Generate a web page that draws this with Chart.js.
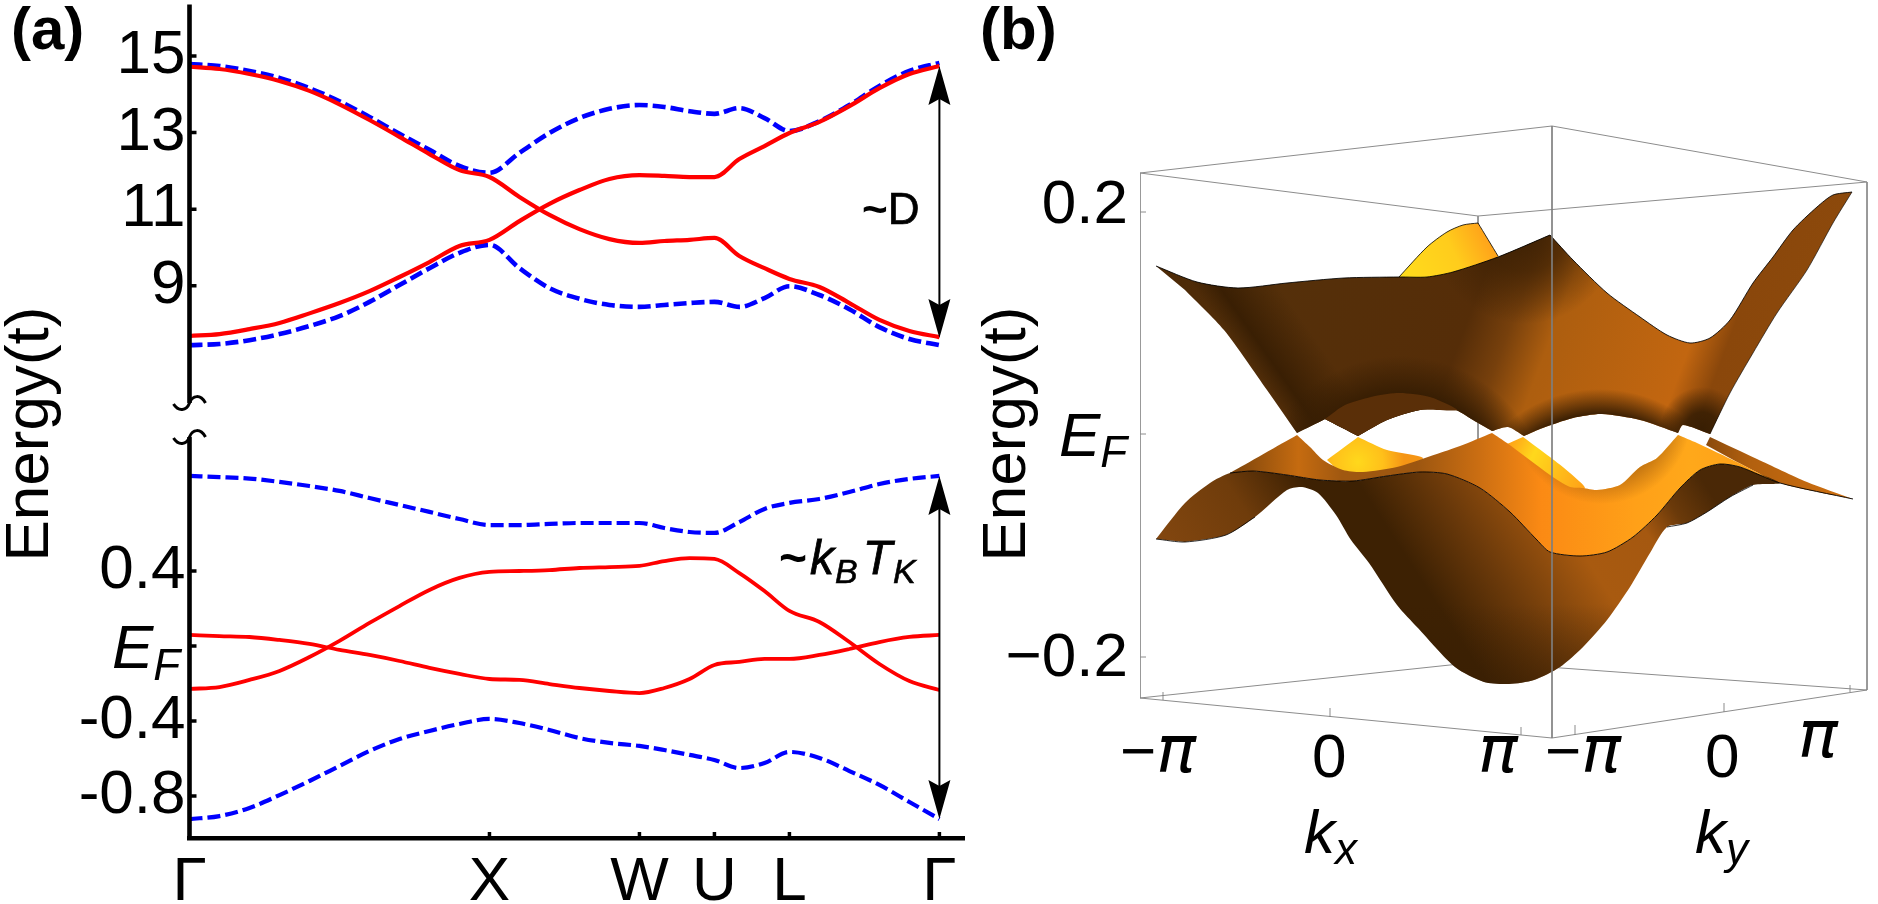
<!DOCTYPE html>
<html>
<head>
<meta charset="utf-8">
<title>Band structure</title>
<script src="https://cdn.jsdelivr.net/npm/chart.js@4/dist/chart.umd.min.js"></script>
<style>
  html, body { margin: 0; padding: 0; background: #fff; overflow: hidden; }
  canvas { position: absolute; top: 0; }
  #bandChart { left: 0; }
  #surfaceChart { left: 975px; }
</style>
</head>
<body>
<canvas id="bandChart" width="975" height="904"></canvas>
<canvas id="surfaceChart" width="903" height="904"></canvas>
<script>
// ── panel (a): path through the zone, one k grid for all the bands ──
const kPath = [0, .1, .2, .3, .4, .5, .6, .7, .8, .9, 1, 1.1, 1.2, 1.3, 1.4, 1.5,
               1.583, 1.667, 1.75, 1.833, 1.917, 2, 2.1, 2.2, 2.3, 2.4, 2.5];
const kTickValues = [0, 1, 1.5, 1.75, 2, 2.5];
const kTickLabels = ['Γ', 'X', 'W', 'U', 'L', 'Γ'];

const upperTicks = [15, 13, 11, 9];
const lowerTicks = [0.4, 0, -0.4, -0.8];
const lowerTickLabels = ['0.4', '', '-0.4', '-0.8'];

const redUpperA = [14.72, 14.66, 14.53, 14.35, 14.09, 13.74, 13.33, 12.89, 12.44, 12.02, 11.84, 11.32, 10.85, 10.48,
                   10.22, 10.12, 10.17, 10.20, 10.25, 9.78, 9.46, 9.18, 8.97, 8.55, 8.11, 7.82, 7.66];
const redUpperB = [7.69, 7.74, 7.87, 8.03, 8.28, 8.55, 8.86, 9.23, 9.62, 10.04, 10.20, 10.69, 11.14, 11.50,
                   11.79, 11.89, 11.87, 11.84, 11.84, 12.31, 12.65, 12.99, 13.28, 13.69, 14.16, 14.53, 14.74];
const blueUpperA = [14.79, 14.74, 14.61, 14.43, 14.16, 13.82, 13.41, 12.97, 12.55, 12.13, 11.95, 12.47, 12.99, 13.38,
                    13.62, 13.72, 13.67, 13.56, 13.49, 13.64, 13.38, 13.04, 13.30, 13.72, 14.22, 14.61, 14.82];
const blueUpperB = [7.45, 7.48, 7.58, 7.74, 7.95, 8.21, 8.58, 9.02, 9.46, 9.86, 10.07, 9.46, 8.94, 8.66,
                    8.50, 8.45, 8.50, 8.55, 8.58, 8.45, 8.68, 8.99, 8.76, 8.39, 7.92, 7.61, 7.45];

const blueLowerA = [.907, .901, .893, .875, .853, .827, .789, .752, .715, .677, .645, .645, .651, .656,
                    .656, .656, .629, .608, .603, .661, .731, .763, .784, .821, .864, .891, .907];
const redLowerA = [-.229, -.219, -.181, -.133, -.059, .027, .123, .213, .299, .363, .395, .400, .405, .416,
                   .421, .427, .453, .469, .464, .389, .293, .187, .128, .021, -.096, -.187, -.235];
const redLowerB = [.059, .053, .048, .032, .011, -.021, -.048, -.080, -.117, -.149, -.176, -.181, -.203, -.224,
                   -.240, -.251, -.224, -.176, -.101, -.085, -.069, -.069, -.048, -.016, .021, .048, .059];
const blueLowerB = [-.923, -.907, -.864, -.795, -.720, -.640, -.560, -.496, -.453, -.416, -.389, -.411, -.448, -.491,
                    -.517, -.533, -.555, -.581, -.608, -.651, -.624, -.565, -.597, -.667, -.741, -.832, -.923];

// ── panel (b): view-plane outlines of the two sheets, [across, height] ──
// a point listed twice keeps its corner sharp under the curve tension
const zTickValues = [228, -225];
const zTickLabels = ['0.2', '−0.2'];

const upperTopEdge = [[16,168],[57,152],[98,146],[147,151],[204,156],[259,157],[287,157],[313,162],[358,177],[410,199],[410,199],
                      [433,174],[467,141],[500,117],[527,99],[550,91],[570,96],[590,114],[613,151],[633,177],[653,204],[677,227],[693,239],[712,242]];
const upperRightEdge = [[712,242],[712,242],[693,211],[667,164],[637,121],[613,81],[590,41],[570,0]];
const upperBottomEdge = [[570,0],[570,0],[543,9],[538,1],[538,1],[500,14],[462,20],[433,16],[400,5],[384,-2],[384,-2],[368,7],[352,3],[352,3],[333,14],[313,25],
                         [280,24],[247,14],[218,-2],[218,-2],[185,15],[185,15],[157,1],[157,1],[127,44],[84,104],[45,144]];
const upperFold = [[185,15],[205,29],[235,38],[260,41],[290,37],[317,24],[280,24],[247,14],[218,-2],[218,-2]];
const finOutline = [[259,157],[287,187],[307,202],[323,209],[338,211],[338,211],[358,178],[358,178],[358,165],[259,150]];
const finEdge = [[259,157],[287,187],[307,202],[323,209],[338,211],[338,211],[358,178]];

const lowerRidge = [[90,-39],[157,-1],[157,-1],[170,-13],[183,-26],[203,-36],[223,-38],[257,-33],[285,-24],[320,-12],[352,1],[352,1],[367,-9],
                    [410,-41],[430,-53],[443,-54],[457,-56],[480,-51],[500,-33],[517,-24],[538,-1],[538,-1],[557,-9],[597,-28],[640,-49],[713,-65],[713,-65]];
const frontEdge = [[90,-39],[113,-37],[147,-41],[180,-46],[213,-47],[247,-42],[280,-38],[307,-40],[340,-54],[370,-78],[397,-106],[410,-118],
                   [440,-122],[467,-118],[493,-103],[517,-81],[540,-54],[560,-36],[580,-30],[600,-33],[640,-49],[713,-65]];
const wingLeftTop = [[16,-105],[16,-105],[45,-69],[70,-49]];
const undersideBack = [[613,-51],[590,-63],[567,-78],[547,-89],[527,-93],[510,-119],[490,-153],[467,-186],[443,-213],[420,-233],
                       [394,-246],[369,-250],[344,-248],[315,-233],[278,-194],[257,-171],[229,-129],[211,-106],[196,-81],[178,-59],
                       [162,-53],[147,-56],[115,-83],[86,-101],[45,-108]];
const backWing = [[566,-11],[570,-3],[570,-3],[617,-25],[667,-48],[713,-65],[713,-65],[640,-49],[597,-28]];
const yellowLeft = [[187,-26],[218,-3],[218,-3],[247,-16],[283,-24],[257,-36],[223,-42],[200,-38]];
const yellowRight = [[367,-10],[383,-3],[383,-3],[410,-23],[430,-39],[445,-54],[430,-56],[410,-46]];

const boxBehind = [[0,261],[412,308],null,[0,261],[338,218],null,[338,218],[727,252],null,[412,308],[727,252],null,
                   [727,252],[727,-256],null,[0,261],[0,-264],null,[0,-264],[338,-228],[727,-256],null,[338,218],[338,-228],null,
                   [0,222],[6,222],null,[0,0],[6,0],null,[0,-223],[6,-223]];
const boxFront = [[412,308],[412,-304],null,[0,-264],[412,-304],[727,-256],null,
                  [23,-266],[23,-258],null,[190,-283],[190,-274],null,[381,-301],[381,-293],null,
                  [435,-301],[435,-291],null,[584,-278],[584,-269],null,[710,-258],[710,-251]];

const SANS = '"Liberation Sans"';

// ─────────────────────────────────────────────
// HELPERS
// ─────────────────────────────────────────────
function drawRuns(ctx, x, y, runs) {
    ctx.save();
    ctx.fillStyle = '#000';
    ctx.strokeStyle = '#000';
    ctx.textAlign = 'left';
    ctx.textBaseline = 'alphabetic';
    runs.forEach(function (r) {
        ctx.font = r.font;
        ctx.fillText(r.text, x, y + (r.dy || 0));
        if (r.heavy) {
            ctx.lineWidth = r.heavy;
            ctx.strokeText(r.text, x, y + (r.dy || 0));
        }
        x += ctx.measureText(r.text).width + (r.gap || 0);
    });
    ctx.restore();
}

function drawRotated(ctx, text, x, y) {
    ctx.save();
    ctx.translate(x, y);
    ctx.rotate(-Math.PI / 2);
    ctx.fillStyle = '#000';
    ctx.font = '62px ' + SANS;
    ctx.textAlign = 'center';
    ctx.textBaseline = 'alphabetic';
    ctx.fillText(text, 0, 0);
    ctx.restore();
}

function bandSet(values, yAxisID, color, dashed, width) {
    return {
        data: values.map(function (v, i) { return { x: kPath[i], y: v }; }),
        yAxisID: yAxisID,
        showLine: true,
        borderColor: color,
        borderWidth: width,
        borderDash: dashed ? [13, 5] : [],
        cubicInterpolationMode: 'monotone',
        pointRadius: 0,
        fill: false
    };
}

function arrowHead(ctx, x, tip, dir) {
    ctx.beginPath();
    ctx.moveTo(x, tip);
    ctx.lineTo(x + 11, tip + dir * 39);
    ctx.lineTo(x, tip + dir * 33);
    ctx.lineTo(x - 11, tip + dir * 39);
    ctx.closePath();
    ctx.fill();
}

function drawArrow(ctx, x, y0, y1) {
    ctx.strokeStyle = '#000';
    ctx.fillStyle = '#000';
    ctx.lineWidth = 2;
    ctx.beginPath();
    ctx.moveTo(x, y0 + 20);
    ctx.lineTo(x, y1 - 20);
    ctx.stroke();
    arrowHead(ctx, x, y0, 1);
    arrowHead(ctx, x, y1, -1);
}

function drawSquiggle(ctx, x, y) {
    ctx.beginPath();
    ctx.moveTo(x - 16, y + 1);
    ctx.bezierCurveTo(x - 11, y + 9, x - 3, y + 8, x, y);
    ctx.bezierCurveTo(x + 3, y - 8, x + 11, y - 9, x + 16, y);
    ctx.stroke();
}

// tick labels sit outside the zero-width scale boxes, so open the label clip
const widenLabelBoxes = {
    id: 'widenLabelBoxes',
    afterLayout: function (chart) {
        Object.keys(chart.scales).forEach(function (id) {
            const s = chart.scales[id];
            if (s.isHorizontal()) {
                s.bottom = chart.height;
            } else {
                s.left = 0;
            }
        });
    }
};

function flatAxis(s) {
    s.width = 0;
    s.paddingTop = 0;
    s.paddingBottom = 0;
    s.paddingLeft = 0;
    s.paddingRight = 0;
}

// ─────────────────────────────────────────────
// PANEL (a)
// ─────────────────────────────────────────────
const bandDecor = {
    id: 'bandDecor',
    afterDatasetsDraw: function (chart) {
        const ctx = chart.ctx;
        const xs = chart.scales.x, yU = chart.scales.yU, yL = chart.scales.yL;
        const area = chart.chartArea;
        const axisX = area.left;
        const breakTop = 403, breakBottom = 437;

        ctx.save();
        ctx.strokeStyle = '#000';
        ctx.lineWidth = 4.6;
        ctx.beginPath();
        ctx.moveTo(axisX, area.top);
        ctx.lineTo(axisX, breakTop);
        ctx.moveTo(axisX, breakBottom);
        ctx.lineTo(axisX, area.bottom + 2);
        ctx.stroke();

        ctx.lineWidth = 3;
        drawSquiggle(ctx, axisX, breakTop);
        drawSquiggle(ctx, axisX, breakBottom);

        // short ticks pointing into the plot
        ctx.lineWidth = 3.5;
        ctx.beginPath();
        upperTicks.forEach(function (v) {
            const p = yU.getPixelForValue(v);
            ctx.moveTo(axisX, p);
            ctx.lineTo(axisX + 7, p);
        });
        lowerTicks.forEach(function (v) {
            const p = yL.getPixelForValue(v);
            ctx.moveTo(axisX, p);
            ctx.lineTo(axisX + 7, p);
        });
        kTickValues.slice(1).forEach(function (v) {
            const p = xs.getPixelForValue(v);
            ctx.moveTo(p, area.bottom);
            ctx.lineTo(p, area.bottom - 6);
        });
        ctx.stroke();

        const end = xs.getPixelForValue(2.5);
        drawArrow(ctx, end, yU.getPixelForValue(14.74), yU.getPixelForValue(7.64));
        drawArrow(ctx, end, yL.getPixelForValue(0.907), yL.getPixelForValue(-0.923));
        ctx.restore();

        drawRuns(ctx, 11, 49, [{ text: '(a)', font: 'bold 60px ' + SANS }]);
        drawRotated(ctx, 'Energy(t)', 48, 434);
        drawRuns(ctx, 112, 668, [
            { text: 'E', font: 'italic 62px ' + SANS },
            { text: 'F', font: 'italic 44px ' + SANS, dy: 12 }
        ]);
        drawRuns(ctx, 862, 224, [
            { text: '~', font: 'bold 44px ' + SANS },
            { text: 'D', font: '44px ' + SANS, heavy: .7 }
        ]);
        drawRuns(ctx, 779, 574, [
            { text: '~', font: 'bold 48px ' + SANS, gap: 3 },
            { text: 'k', font: 'italic 48px ' + SANS, heavy: .8, gap: 1 },
            { text: 'B', font: 'italic 34px ' + SANS, heavy: .6, dy: 9, gap: 5 },
            { text: 'T', font: 'italic 48px ' + SANS, heavy: .8, gap: 1 },
            { text: 'K', font: 'italic 34px ' + SANS, heavy: .6, dy: 9 }
        ]);
    }
};

new Chart(document.getElementById('bandChart').getContext('2d'), {
    type: 'scatter',
    data: {
        datasets: [
            bandSet(redUpperA, 'yU', '#ff0000', false, 4.2),
            bandSet(redUpperB, 'yU', '#ff0000', false, 4.2),
            bandSet(redLowerA, 'yL', '#ff0000', false, 3.8),
            bandSet(redLowerB, 'yL', '#ff0000', false, 3.8),
            bandSet(blueUpperA, 'yU', '#0000ff', true, 4.6),
            bandSet(blueUpperB, 'yU', '#0000ff', true, 4.6),
            bandSet(blueLowerA, 'yL', '#0000ff', true, 4.2),
            bandSet(blueLowerB, 'yL', '#0000ff', true, 4.2)
        ]
    },
    plugins: [widenLabelBoxes, bandDecor],
    options: {
        responsive: false,
        animation: false,
        events: [],
        layout: { autoPadding: false, padding: { left: 189.5, right: 11, top: 4.5, bottom: 66 } },
        plugins: { legend: { display: false }, tooltip: { enabled: false } },
        scales: {
            x: {
                type: 'linear',
                min: 0,
                max: 2.582,
                grid: { display: false, drawTicks: false },
                border: { display: true, color: '#000', width: 4.6 },
                afterFit: function (s) {
                    s.height = 0;
                    s.paddingLeft = 0;
                    s.paddingRight = 0;
                },
                afterBuildTicks: function (s) { s.ticks = kTickValues.map(function (v) { return { value: v }; }); },
                ticks: {
                    autoSkip: false,
                    maxRotation: 0,
                    padding: 8,
                    color: '#000',
                    font: { family: 'Liberation Sans', size: 62 },
                    callback: function (v, i) { return kTickLabels[i]; }
                }
            },
            yU: {
                type: 'linear',
                position: 'left',
                min: -5.418,
                max: 16.345,
                grid: { display: false, drawTicks: false },
                border: { display: false },
                afterFit: flatAxis,
                afterBuildTicks: function (s) { s.ticks = upperTicks.map(function (v) { return { value: v }; }); },
                ticks: {
                    autoSkip: false,
                    padding: 4,
                    color: '#000',
                    font: { family: 'Liberation Sans', size: 62 },
                    callback: function (v) { return String(v); }
                }
            },
            yL: {
                type: 'linear',
                position: 'left',
                min: -1.024,
                max: 3.421,
                grid: { display: false, drawTicks: false },
                border: { display: false },
                afterFit: flatAxis,
                afterBuildTicks: function (s) { s.ticks = lowerTicks.map(function (v) { return { value: v }; }); },
                ticks: {
                    autoSkip: false,
                    padding: 4,
                    color: '#000',
                    font: { family: 'Liberation Sans', size: 62 },
                    callback: function (v, i) { return lowerTickLabels[i]; }
                }
            }
        }
    }
});

// ─────────────────────────────────────────────
// PANEL (b)
// ─────────────────────────────────────────────
const SHEET_TENSION = 0.25;

function toPoints(list) {
    return list.map(function (p) {
        return p ? { x: p[0], y: p[1] } : { x: NaN, y: NaN };
    });
}

function addStops(g, stops) {
    stops.forEach(function (s) { g.addColorStop(s[0], s[1]); });
    return g;
}

function linearFill(x0, y0, x1, y1, stops) {
    return function (c) {
        if (!c.chart.chartArea) return 'transparent';
        const xs = c.chart.scales.x, ys = c.chart.scales.y;
        return addStops(c.chart.ctx.createLinearGradient(
            xs.getPixelForValue(x0), ys.getPixelForValue(y0),
            xs.getPixelForValue(x1), ys.getPixelForValue(y1)), stops);
    };
}

function radialFill(cx, cy, r, stops) {
    return function (c) {
        if (!c.chart.chartArea) return 'transparent';
        const x = c.chart.scales.x.getPixelForValue(cx), y = c.chart.scales.y.getPixelForValue(cy);
        return addStops(c.chart.ctx.createRadialGradient(x, y, 0, x, y, r), stops);
    };
}

function sheet(outline, fill) {
    return {
        data: toPoints(outline),
        showLine: true,
        fill: 'shape',
        backgroundColor: fill,
        borderColor: 'transparent',
        borderWidth: 0,
        pointRadius: 0,
        tension: SHEET_TENSION
    };
}

function edge(points, color, width, tension) {
    return {
        data: toPoints(points),
        showLine: true,
        fill: false,
        borderColor: color,
        borderWidth: width,
        pointRadius: 0,
        tension: tension === undefined ? SHEET_TENSION : tension
    };
}

const upperOutline = upperTopEdge.concat(upperRightEdge.slice(1), upperBottomEdge.slice(1));
const topFace = lowerRidge.concat(frontEdge.slice().reverse().slice(1));
const underside = wingLeftTop.concat(frontEdge.slice(0, -1), undersideBack);

const DARK = 'rgba(56,30,3,';
const RIM = 'rgba(150,84,12,';

// listed back to front
const layers = [
    edge(boxBehind, '#8c8c8c', 1, 0),
    sheet(finOutline, linearFill(270, 150, 350, 190, [[0, '#ffdb1c'], [.6, '#ffcc1c'], [1, '#ffa41a']])),
    edge(finEdge, 'rgba(0,0,0,.8)', 1),

    sheet(upperOutline, linearFill(16, 120, 671, -126, [
        [0, '#4f2b07'], [.12, '#55300a'], [.42, '#552d08'], [.48, '#77400c'], [.54, '#ad5e0f'],
        [.73, '#c26610'], [.78, '#8a470b'], [1, '#8f4c0c']])),
    sheet(upperOutline, radialFill(385, 205, 95, [[0, DARK + '.9)'], [.45, DARK + '.65)'], [1, DARK + '0)']])),
    sheet(upperOutline, linearFill(120, 53, 177, 93, [[0, DARK + '.1)'], [.3, DARK + '.95)'], [1, DARK + '0)']])),
    sheet(upperOutline, radialFill(260, -70, 148, [[0, DARK + '1)'], [.75, DARK + '1)'], [1, DARK + '0)']])),
    sheet(upperOutline, radialFill(460, -100, 145, [[0, DARK + '1)'], [.82, DARK + '1)'], [1, DARK + '0)']])),
    sheet(upperOutline, radialFill(562, 5, 42, [[0, DARK + '1)'], [.4, DARK + '.9)'], [1, DARK + '0)']])),
    sheet(upperFold, '#5a2f08'),
    edge(upperTopEdge, 'rgba(0,0,0,.85)', 1),
    edge(upperRightEdge, 'rgba(0,0,0,.6)', 1),

    sheet(yellowLeft, radialFill(218, -28, 46, [[0, '#ffd81c'], [.55, '#ffc01a'], [1, '#f59515']])),
    sheet(yellowRight, linearFill(370, -10, 445, -50, [[0, '#ffa518'], [.3, '#ffd81c'], [1, '#ffa318']])),
    sheet(backWing, linearFill(566, 0, 713, 0, [[0, '#8a4a0c'], [.3, '#b2600f'], [1, '#d0700f']])),

    sheet(underside, linearFill(60, -191, 480, 81, [
        [0, '#854810'], [.2, '#6f3c0b'], [.33, '#3d2103'], [.42, '#3d2103'], [.55, '#6a390a'],
        [.72, '#a85a10'], [.85, '#a55810'], [.92, '#6b3a0a'], [1, '#4a2806']])),
    sheet(underside, linearFill(0, -170, 0, -255, [[0, DARK + '0)'], [1, DARK + '.55)']])),

    sheet(topFace, linearFill(90, 0, 713, 0, [
        [0, '#7a430c'], [.11, '#c56b10'], [.18, '#a05810'], [.3, '#9c5610'], [.4, '#cb6e12'],
        [.5, '#fb8a14'], [.65, '#ffa018'], [.74, '#ffa81a'], [.84, '#ffa018'], [.92, '#d9780f'], [1, '#c66a10']])),
    sheet(topFace, radialFill(462, 20, 90, [[0, RIM + '.6)'], [.7, RIM + '.6)'], [1, RIM + '0)']])),

    edge(frontEdge, 'rgba(0,0,0,.9)', 1),
    edge(undersideBack.slice(0, 5), 'rgba(0,0,0,.8)', 1),
    edge(undersideBack.slice(-3).concat(wingLeftTop.slice(0, 1)), 'rgba(0,0,0,.8)', 1),
    edge(boxFront, 'rgba(128,128,128,.9)', 1, 0)
];

layers.forEach(function (d, i) { d.order = layers.length - i; });

const surfaceDecor = {
    id: 'surfaceDecor',
    afterDatasetsDraw: function (chart) {
        const ctx = chart.ctx;
        const off = 975;
        const PI_FONT = 'oblique 66px "DejaVu Sans"';
        drawRuns(ctx, 980 - off, 49, [{ text: '(b)', font: 'bold 60px ' + SANS }]);
        drawRotated(ctx, 'Energy(t)', 1025 - off, 434);
        drawRuns(ctx, 1059 - off, 456, [
            { text: 'E', font: 'italic 62px ' + SANS },
            { text: 'F', font: 'italic 44px ' + SANS, dy: 11 }
        ]);
        drawRuns(ctx, 1120 - off, 772, [{ text: '−', font: '62px ' + SANS }, { text: 'π', font: PI_FONT }]);
        drawRuns(ctx, 1312 - off, 777, [{ text: '0', font: '62px ' + SANS }]);
        drawRuns(ctx, 1478 - off, 772, [{ text: 'π', font: PI_FONT }]);
        drawRuns(ctx, 1545 - off, 772, [{ text: '−', font: '62px ' + SANS }, { text: 'π', font: PI_FONT }]);
        drawRuns(ctx, 1705 - off, 777, [{ text: '0', font: '62px ' + SANS }]);
        drawRuns(ctx, 1798 - off, 757, [{ text: 'π', font: PI_FONT }]);
        drawRuns(ctx, 1304 - off, 853, [
            { text: 'k', font: 'italic 62px ' + SANS },
            { text: 'x', font: 'italic 44px ' + SANS, dy: 11 }
        ]);
        drawRuns(ctx, 1695 - off, 853, [
            { text: 'k', font: 'italic 62px ' + SANS },
            { text: 'y', font: 'italic 44px ' + SANS, dy: 11 }
        ]);
    }
};

new Chart(document.getElementById('surfaceChart').getContext('2d'), {
    type: 'scatter',
    data: { datasets: layers },
    plugins: [widenLabelBoxes, surfaceDecor],
    options: {
        responsive: false,
        animation: false,
        events: [],
        layout: { autoPadding: false, padding: { left: 165, right: 0, top: 0, bottom: 0 } },
        plugins: { legend: { display: false }, tooltip: { enabled: false } },
        scales: {
            x: { type: 'linear', min: 0, max: 738, display: false },
            y: {
                type: 'linear',
                position: 'left',
                min: -470,
                max: 434,
                grid: { display: false, drawTicks: false },
                border: { display: false },
                afterFit: flatAxis,
                afterBuildTicks: function (s) { s.ticks = zTickValues.map(function (v) { return { value: v }; }); },
                ticks: {
                    autoSkip: false,
                    padding: 12,
                    color: '#000',
                    font: { family: 'Liberation Sans', size: 62 },
                    callback: function (v, i) { return zTickLabels[i]; }
                }
            }
        }
    }
});
</script>
</body>
</html>
